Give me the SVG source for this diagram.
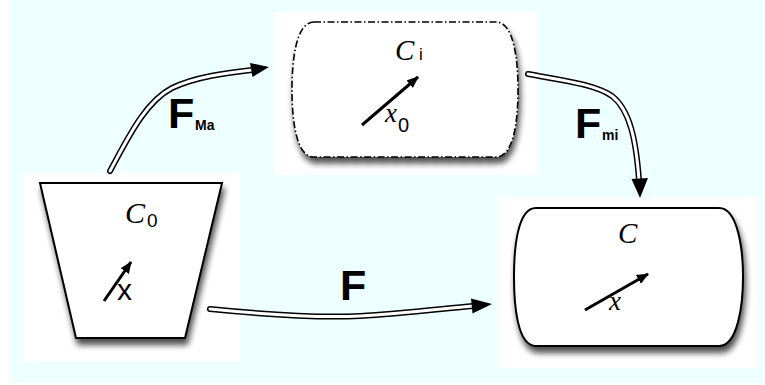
<svg xmlns="http://www.w3.org/2000/svg" width="765" height="385" viewBox="0 0 765 385">
<defs>
<filter id="sh" x="-20%" y="-20%" width="140%" height="150%">
<feGaussianBlur in="SourceAlpha" stdDeviation="3"/>
<feOffset dx="2" dy="6" result="b"/>
<feComponentTransfer><feFuncA type="linear" slope="0.7"/></feComponentTransfer>
<feMerge><feMergeNode/><feMergeNode in="SourceGraphic"/></feMerge>
</filter>
<marker id="ah2" viewBox="0 0 12 10" refX="11" refY="5" markerWidth="12" markerHeight="10" markerUnits="userSpaceOnUse" orient="auto">
<path d="M0,0 L12,5 L0,10 Z" fill="#000"/>
</marker>
</defs>
<style>
.bg{fill:#EEFFFF}
.pad{fill:#FFFFFF}
.node{fill:#FFFFFF;stroke:#000;stroke-width:2}
.dd{fill:#FFFFFF;stroke:#000;stroke-width:1.6;stroke-dasharray:7,2.5,1.5,2.5}
.vec{stroke:#000;stroke-width:3;fill:none}
.outer{fill:none;stroke:#000;stroke-width:6;stroke-linecap:round}
.inner{fill:none;stroke:#FFF;stroke-width:3;stroke-linecap:round}
.head{fill:#000}
.ital{font-family:"Liberation Serif",serif;font-style:italic;fill:#000}
.sans{font-family:"Liberation Sans",sans-serif;fill:#000}
.lbl{font-family:"Liberation Sans",sans-serif;font-weight:bold;fill:#000}
</style>
<rect x="0" y="0" width="765" height="385" fill="#FFFFFF"/>
<rect class="bg" x="10" y="0" width="755" height="383"/>
<g id="node-C0">
<rect class="pad" x="24" y="173" width="216" height="189"/>
<polygon class="node" filter="url(#sh)" points="40,183 222,183 185,338 76,338"/>
<text class="ital" x="125" y="223" font-size="30">C</text>
<text class="sans" x="147" y="227" font-size="19">0</text>
<line class="vec" x1="104" y1="301" x2="131" y2="262" marker-end="url(#ah2)"/>
<text class="sans" x="117" y="300" font-size="30">x</text>
</g>
<g id="node-Ci">
<rect class="pad" x="274" y="12" width="263" height="163"/>
<path class="dd" filter="url(#sh)" d="M314,22 H496 C514,22 518,60 518,90 C518,120 514,157 496,157 H314 C296,157 292,120 292,90 C292,60 296,22 314,22 Z"/>
<text class="ital" x="395" y="60" font-size="29">C</text>
<text class="sans" x="419" y="60" font-size="17">i</text>
<line class="vec" x1="362" y1="125" x2="418" y2="77" marker-end="url(#ah2)"/>
<text class="ital" x="385" y="122" font-size="27">x</text>
<text class="sans" x="398" y="132" font-size="20">0</text>
</g>
<g id="node-C">
<rect class="pad" x="497" y="197" width="260" height="171"/>
<path class="node" filter="url(#sh)" d="M536,208 H719 C738,208 743,250 743,277 C743,304 738,346 719,346 H536 C517,346 514,304 514,277 C514,250 517,208 536,208 Z"/>
<text class="ital" x="618" y="243" font-size="29">C</text>
<line class="vec" x1="585" y1="310" x2="648" y2="274" marker-end="url(#ah2)"/>
<text class="ital" x="609" y="310" font-size="27">x</text>
</g>
<g id="connectors">
<path class="outer" d="M110,171 C128,138 145,102 172,88 C195,77 225,73 252,70"/>
<path class="inner" d="M110,171 C128,138 145,102 172,88 C195,77 225,73 252,70"/>
<polygon class="head" points="269,67 252.5,77 250,63"/>
<text class="lbl" x="168" y="128" font-size="43">F</text>
<text class="lbl" x="195" y="130" font-size="14">Ma</text>
<path class="outer" d="M528,74 C560,80 595,84 612,96 C630,110 636,140 639,180"/>
<path class="inner" d="M528,74 C560,80 595,84 612,96 C630,110 636,140 639,180"/>
<polygon class="head" points="640,198 631.5,179 648,178"/>
<text class="lbl" x="575" y="138" font-size="43">F</text>
<text class="lbl" x="602" y="140" font-size="14">mi</text>
<path class="outer" d="M210,309 C260,314 320,318 360,316 C400,314 440,309 473,306"/>
<path class="inner" d="M210,309 C260,314 320,318 360,316 C400,314 440,309 473,306"/>
<polygon class="head" points="492,304 471,298.5 472.5,313.5"/>
<text class="lbl" x="340" y="300" font-size="43">F</text>
</g>
</svg>
